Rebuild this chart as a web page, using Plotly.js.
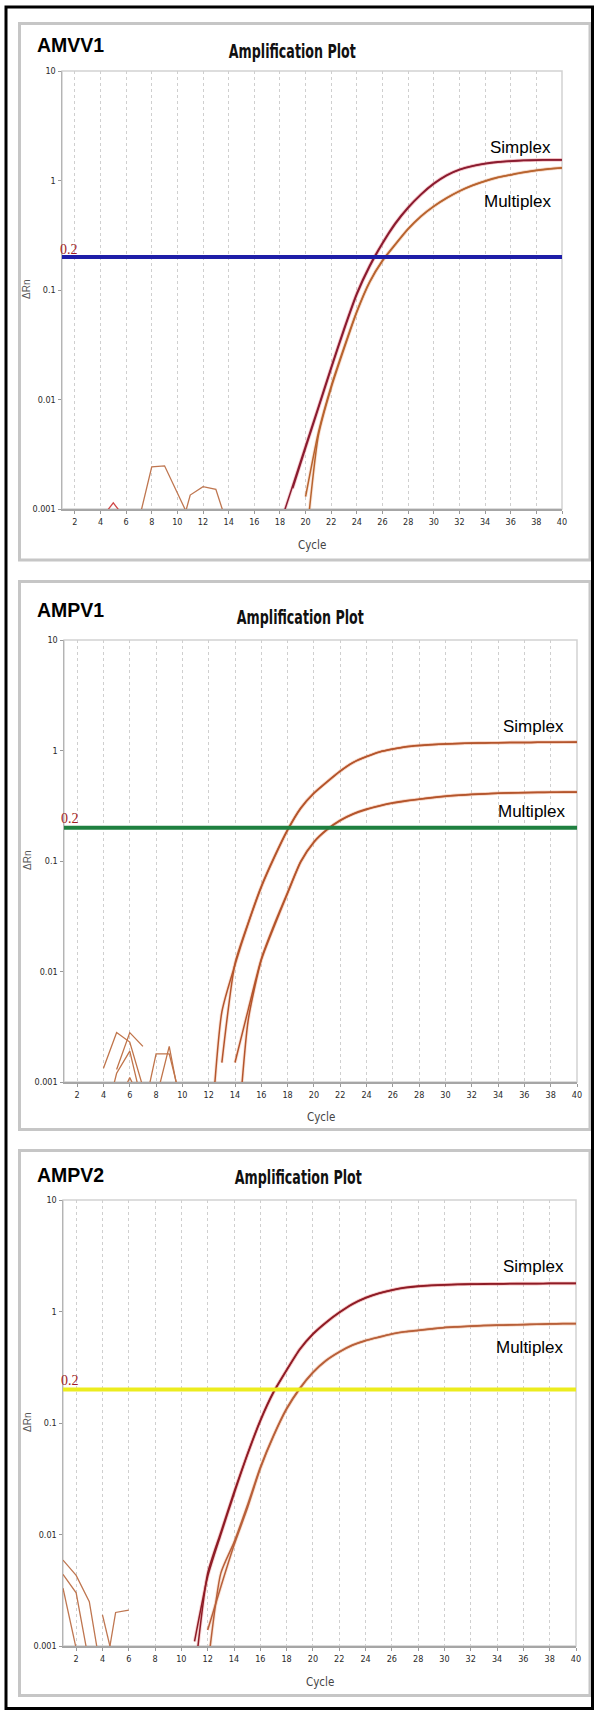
<!DOCTYPE html>
<html><head><meta charset="utf-8">
<script src="https://cdn.plot.ly/plotly-3.0.1.min.js"></script>
<style>html,body{margin:0;padding:0;background:#fff;} #chart{width:594px;height:1710px;}</style>
</head><body><div id="chart"></div>
<script>
// ---------------- DATA ----------------
const cycles = [1,2,3,4,5,6,7,8,9,10,11,12,13,14,15,16,17,18,19,20,21,22,23,24,25,26,27,28,29,30,31,32,33,34,35,36,37,38,39,40];
const xTickVals = [2,4,6,8,10,12,14,16,18,20,22,24,26,28,30,32,34,36,38,40];
const yTickVals = [0.001,0.01,0.1,1,10];
const yTickText = ['0.001','0.01','0.1','1','10'];
const threshold = 0.2;
const thresholdText = '0.2';
const panelNames = ['AMVV1','AMPV1','AMPV2'];
const plotTitle = 'Amplification Plot';
const seriesNames = ['Simplex','Multiplex'];
const xTitle = 'Cycle';
const yTitle = '\u0394Rn';

// first cycle of each amplification curve
const amvv1_start = {simplexA:18, simplexB:19, multiplexA:20, multiplexB:20};
const amvv1_simplexA = [0.00072,0.00164,0.00377,0.0086,0.0198,0.0445,0.094,0.168,0.27,0.41,0.57,0.75,0.94,1.12,1.26,1.36,1.43,1.48,1.51,1.53,1.54,1.55,1.55];
const amvv1_simplexB = [0.00155,0.0036,0.0083,0.0192,0.043,0.091,0.163,0.265,0.40,0.56,0.74,0.93,1.11,1.25,1.35,1.42,1.47,1.50,1.52,1.53,1.54,1.54];
const amvv1_multiplexA = [0.00045,0.0047,0.0128,0.029,0.063,0.118,0.185,0.26,0.36,0.47,0.58,0.69,0.80,0.90,0.99,1.07,1.13,1.19,1.24,1.28,1.31];
const amvv1_multiplexB = [0.0013,0.0050,0.0133,0.030,0.064,0.119,0.186,0.262,0.362,0.472,0.582,0.692,0.80,0.90,0.985,1.065,1.125,1.185,1.235,1.275,1.30];
// background noise traces [cycles],[values]
const amvv1_noise = [
  [[4,5,6],[0.00080,0.00114,0.00080]],
  [[7,8,9,10,11],[0.00079,0.00243,0.00248,0.00141,0.00079]],
  [[10,11,12,13,14],[0.0005,0.00134,0.0016,0.00151,0.00066]]
];

const ampv1_start = {simplexA:12, simplexB:13, multiplexA:14, multiplexB:14};
const ampv1_simplexA = [0.00017,0.0043,0.0115,0.027,0.058,0.108,0.19,0.30,0.41,0.52,0.65,0.78,0.88,0.97,1.03,1.08,1.11,1.13,1.145,1.155,1.165,1.17,1.175,1.18,1.18,1.185,1.185,1.19,1.19];
const ampv1_simplexB = [0.0015,0.0118,0.0275,0.059,0.11,0.192,0.302,0.412,0.522,0.652,0.782,0.882,0.972,1.032,1.082,1.112,1.132,1.147,1.157,1.167,1.172,1.177,1.18,1.182,1.186,1.188,1.19,1.192];
const ampv1_multiplexA = [0.000145,0.0036,0.0127,0.026,0.051,0.098,0.148,0.192,0.232,0.266,0.293,0.315,0.334,0.349,0.362,0.374,0.385,0.393,0.40,0.405,0.41,0.413,0.415,0.417,0.418,0.42,0.42];
const ampv1_multiplexB = [0.0015,0.0045,0.013,0.027,0.052,0.099,0.149,0.193,0.234,0.268,0.295,0.317,0.336,0.351,0.363,0.375,0.386,0.394,0.401,0.406,0.411,0.414,0.416,0.418,0.419,0.421,0.422];
const ampv1_noise = [
  [[4,5,6,7],[0.00133,0.0028,0.0023,0.0009]],
  [[5,6,7],[0.0013,0.0028,0.0021]],
  [[4,5,6,7],[0.0004,0.0012,0.0019,0.0006]],
  [[5,6,7],[0.0006,0.0011,0.0006]],
  [[7,8,9,10],[0.0005,0.0018,0.0018,0.0006]],
  [[8,9,10],[0.0007,0.0021,0.0005]]
];

const ampv2_start = {simplexA:11, simplexB:11, multiplexA:12, multiplexB:12};
const ampv2_simplexA = [0.00053,0.0045,0.0105,0.024,0.052,0.106,0.19,0.30,0.46,0.63,0.80,0.98,1.17,1.33,1.46,1.56,1.64,1.69,1.72,1.74,1.755,1.765,1.77,1.775,1.78,1.785,1.785,1.79,1.79,1.79];
const ampv2_simplexB = [0.0011,0.0042,0.0100,0.023,0.051,0.104,0.187,0.296,0.455,0.625,0.795,0.975,1.16,1.32,1.45,1.55,1.63,1.68,1.71,1.73,1.745,1.755,1.76,1.765,1.77,1.775,1.775,1.78,1.78,1.78];
const ampv2_multiplexA = [0.00064,0.0045,0.0085,0.018,0.040,0.077,0.135,0.205,0.285,0.365,0.435,0.50,0.55,0.59,0.63,0.66,0.68,0.70,0.72,0.73,0.74,0.75,0.755,0.76,0.765,0.77,0.775,0.78,0.78];
const ampv2_multiplexB = [0.00139,0.0034,0.0080,0.017,0.039,0.076,0.133,0.203,0.283,0.362,0.432,0.497,0.547,0.587,0.627,0.657,0.677,0.697,0.717,0.727,0.737,0.747,0.752,0.757,0.762,0.767,0.772,0.776,0.777];
const ampv2_noise = [
  [[1,2,3,4],[0.0059,0.0043,0.0025,0.00049]],
  [[1,2,3],[0.0044,0.0030,0.00069]],
  [[1,2],[0.0033,0.00095]],
  [[4,5],[0.0019,0.00061]],
  [[4,5,6],[0.0004,0.0020,0.0021]]
];

// ---------------- LAYOUT HELPERS ----------------
const W = 594, H = 1710;
const px = v => v / W;
const py = v => 1 - v / H;
const NARROW = '"DejaVu Sans Condensed", "Liberation Sans", sans-serif';
const ARIAL = '"Liberation Sans", Arial, sans-serif';
const SERIF = '"Liberation Serif", "Times New Roman", serif';

const panels = [
  {name: panelNames[0], start: amvv1_start, sA: amvv1_simplexA, sB: amvv1_simplexB, mA: amvv1_multiplexA, mB: amvv1_multiplexB, noise: amvv1_noise,
   plot: [62, 562, 71, 509], box: [19.5, 23.5, 590, 560], nameY: 45, titleX: 292, titleY: 51, cycleY: 545,
   simplexXY: [520, 147], multiplexXY: [518, 201], thrLabelXY: [69, 249],
   thrColor: '#1e1ea8', sColor: '#8a1c30', sGlow: 'rgba(230,120,130,0.30)', mColor: '#b8642f', mGlow: 'rgba(230,160,120,0.25)',
   noiseColors: ['#d04848', '#bf7650', '#bf7650']},
  {name: panelNames[1], start: ampv1_start, sA: ampv1_simplexA, sB: ampv1_simplexB, mA: ampv1_multiplexA, mB: ampv1_multiplexB, noise: ampv1_noise,
   plot: [64, 577, 640, 1082], box: [19.5, 581.5, 590, 1129.5], nameY: 610, titleX: 300, titleY: 617, cycleY: 1117,
   simplexXY: [533, 726], multiplexXY: [532, 811], thrLabelXY: [70, 818],
   thrColor: '#1f8040', sColor: '#b4552c', sGlow: 'rgba(235,150,110,0.25)', mColor: '#b4552c', mGlow: 'rgba(235,150,110,0.25)',
   noiseColors: ['#c0744a','#c0744a','#c0744a','#c0744a','#c0744a','#c0744a']},
  {name: panelNames[2], start: ampv2_start, sA: ampv2_simplexA, sB: ampv2_simplexB, mA: ampv2_multiplexA, mB: ampv2_multiplexB, noise: ampv2_noise,
   plot: [63, 576, 1200, 1646], box: [19.5, 1150.5, 590, 1695.5], nameY: 1175, titleX: 298, titleY: 1177, cycleY: 1682,
   simplexXY: [533.5, 1266], multiplexXY: [530, 1347], thrLabelXY: [70, 1380],
   thrColor: '#ecec1e', sColor: '#8e1c26', sGlow: 'rgba(230,120,120,0.30)', mColor: '#b8603a', mGlow: 'rgba(230,160,120,0.25)',
   noiseColors: ['#bf7650','#bf7650','#bf7650','#bf7650','#bf7650']}
];

function curveXY(startCycle, values) {
  const i0 = cycles.indexOf(startCycle);
  return {x: cycles.slice(i0, i0 + values.length), y: values};
}

const data = [];
const layout = {
  width: W, height: H, margin: {l:0, r:0, t:0, b:0},
  paper_bgcolor: '#ffffff', plot_bgcolor: '#ffffff', showlegend: false,
  shapes: [], annotations: []
};

// outer black frame
layout.shapes.push({type:'rect', xref:'paper', yref:'paper', x0:px(6), x1:px(592.5), y0:py(7), y1:py(1708.5),
  line:{color:'#000', width:3}, layer:'above'});

panels.forEach((p, k) => {
  const n = k === 0 ? '' : String(k + 1);
  const xa = 'x' + n, ya = 'y' + n;
  const [L, R, T, B] = p.plot;
  layout['xaxis' + n] = {
    domain: [px(L), px(R)], range: [1, 40], anchor: ya,
    tickmode: 'array', tickvals: xTickVals, ticktext: xTickVals.map(String),
    showgrid: true, gridcolor: '#cfcfcf', griddash: '3px,3px', gridwidth: 1,
    zeroline: false, showline: true, linecolor: '#a6a6a6', linewidth: 2,
    ticks: 'outside', ticklen: 3, tickcolor: '#999', tickwidth: 1,
    tickfont: {family: NARROW, size: 9, color: '#2a2a2a'}, fixedrange: true
  };
  layout['yaxis' + n] = {
    domain: [py(B), py(T)], type: 'log', range: [-3, 1], anchor: xa,
    tickmode: 'array', tickvals: yTickVals, ticktext: yTickText,
    showgrid: false, zeroline: false, showline: true, linecolor: '#b4b4b4', linewidth: 1.5,
    ticks: 'outside', ticklen: 3, tickcolor: '#999', tickwidth: 1,
    tickfont: {family: NARROW, size: 9, color: '#2a2a2a'}, fixedrange: true
  };
  // panel gray frame
  layout.shapes.push({type:'rect', xref:'paper', yref:'paper', x0:px(p.box[0]), x1:px(p.box[2]), y0:py(p.box[1]), y1:py(p.box[3]),
    line:{color:'#c6c6c6', width:3}, layer:'below'});
  // plot box
  layout.shapes.push({type:'rect', xref: xa + ' domain', yref: ya + ' domain', x0:0, x1:1, y0:0, y1:1,
    line:{color:'#d2d2d2', width:1.5}, layer:'below'});

  // noise traces
  p.noise.forEach((nz, j) => {
    data.push({type:'scatter', mode:'lines', x: nz[0], y: nz[1], xaxis: xa, yaxis: ya,
      line:{color: p.noiseColors[j], width: 1.3}, hoverinfo:'skip'});
  });
  // curves: glow then line
  const curves = [
    [curveXY(p.start.multiplexA, p.mA), p.mColor, p.mGlow],
    [curveXY(p.start.multiplexB, p.mB), p.mColor, p.mGlow],
    [curveXY(p.start.simplexA, p.sA), p.sColor, p.sGlow],
    [curveXY(p.start.simplexB, p.sB), p.sColor, p.sGlow]
  ];
  curves.forEach(c => {
    data.push({type:'scatter', mode:'lines', x:c[0].x, y:c[0].y, xaxis:xa, yaxis:ya,
      line:{color:c[2], width:3.4, shape:'spline', smoothing:0.6}, hoverinfo:'skip'});
  });
  curves.forEach(c => {
    data.push({type:'scatter', mode:'lines', x:c[0].x, y:c[0].y, xaxis:xa, yaxis:ya,
      line:{color:c[1], width:1.5, shape:'spline', smoothing:0.6}, hoverinfo:'skip'});
  });
  // threshold line
  data.push({type:'scatter', mode:'lines', x:[cycles[0], cycles[cycles.length-1]], y:[threshold, threshold],
    xaxis:xa, yaxis:ya, line:{color:p.thrColor, width:4}, hoverinfo:'skip'});

  // texts
  layout.annotations.push(
    {text: p.name, xref:'paper', yref:'paper', x:px(35), y:py(p.nameY), xanchor:'left', yanchor:'middle', showarrow:false,
     font:{family: ARIAL, size: 19.5, color:'#000', weight: 'bold'}},
    {text: plotTitle, xref:'paper', yref:'paper', x:px(p.titleX), y:py(p.titleY), xanchor:'center', yanchor:'middle', showarrow:false,
     font:{family: NARROW, size: 20, color:'#111', weight: 'bold'}},
    {text: seriesNames[0], xref:'paper', yref:'paper', x:px(p.simplexXY[0]), y:py(p.simplexXY[1]), xanchor:'center', yanchor:'middle', showarrow:false,
     font:{family: ARIAL, size: 17, color:'#000'}},
    {text: seriesNames[1], xref:'paper', yref:'paper', x:px(p.multiplexXY[0]), y:py(p.multiplexXY[1]), xanchor:'center', yanchor:'middle', showarrow:false,
     font:{family: ARIAL, size: 17, color:'#000'}},
    {text: thresholdText, xref:'paper', yref:'paper', x:px(p.thrLabelXY[0]), y:py(p.thrLabelXY[1]), xanchor:'center', yanchor:'middle', showarrow:false,
     font:{family: SERIF, size: 14, color:'#a01c24'}},
    {text: xTitle, xref:'paper', yref:'paper', x:px((L + R) / 2), y:py(p.cycleY), xanchor:'center', yanchor:'middle', showarrow:false,
     font:{family: NARROW, size: 11.5, color:'#444'}},
    {text: yTitle, xref:'paper', yref:'paper', x:px(27), y:py((T + B) / 2), xanchor:'center', yanchor:'middle', showarrow:false, textangle:-90,
     font:{family: ARIAL, size: 10, color:'#555'}}
  );
});

Plotly.newPlot('chart', data, layout, {displayModeBar:false, staticPlot:true}).then(gd => {
  // compress the condensed headline text to the reference's narrow width
  gd.querySelectorAll('.annotation-text').forEach(t => {
    if (t.textContent === plotTitle) {
      t.setAttribute('textLength', '127');
      t.setAttribute('lengthAdjust', 'spacingAndGlyphs');
    }
  });
});
</script></body></html>
